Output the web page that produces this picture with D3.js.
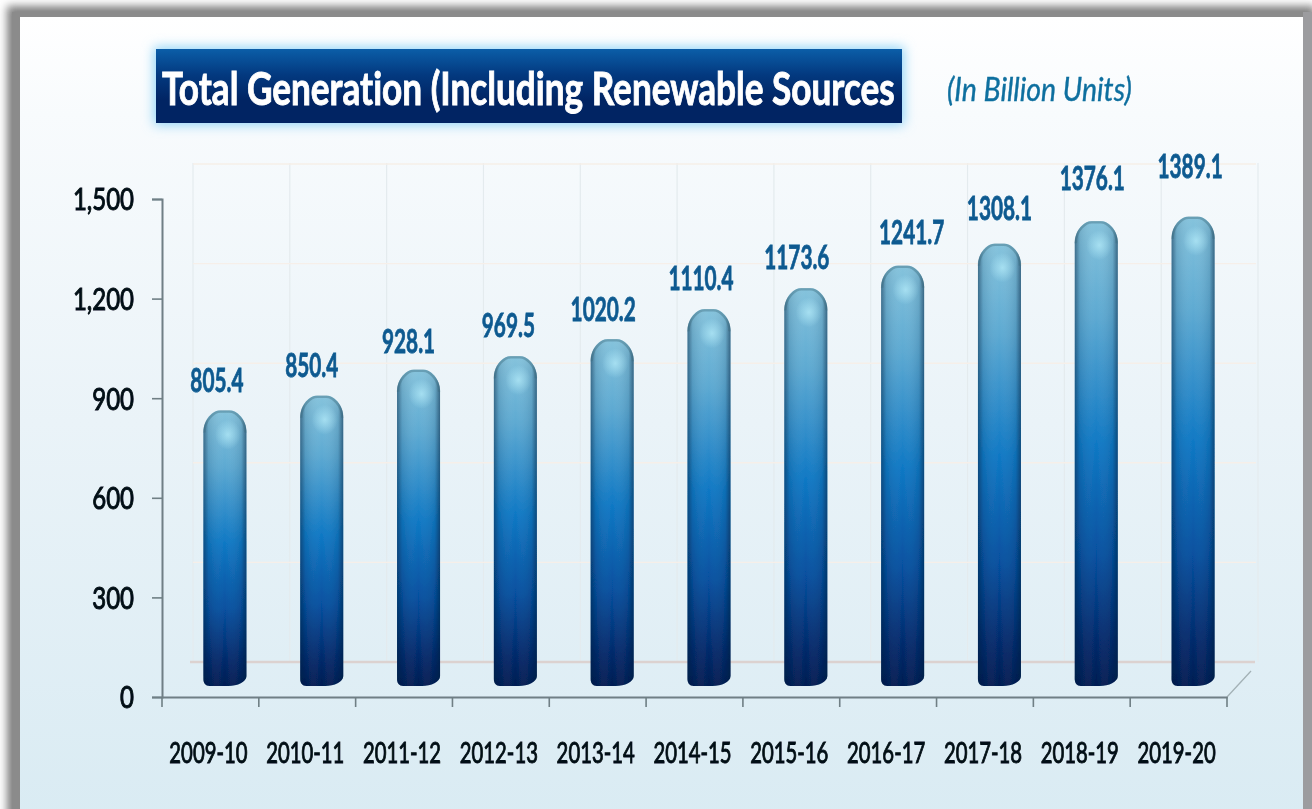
<!DOCTYPE html>
<html><head><meta charset="utf-8">
<script src="https://cdn.jsdelivr.net/npm/d3@7"></script>
<style>html,body{margin:0;padding:0;background:#fff;overflow:hidden}svg{display:block}text{font-family:Lato,"Open Sans",sans-serif;font-variant-ligatures:none}</style>
</head><body><svg id="c" width="1312" height="809"></svg>
<script>
const categories=["2009-10","2010-11","2011-12","2012-13","2013-14","2014-15","2015-16","2016-17","2017-18","2018-19","2019-20"];
const generation=[805.4,850.4,928.1,969.5,1020.2,1110.4,1173.6,1241.7,1308.1,1376.1,1389.1];
const yTicks=[0,300,600,900,1200,1500];
const titleText="Total Generation (Including Renewable Sources";
const unitText="(In Billion Units)";

// layout tweaks for the hand-placed value labels
const labelDx=[-8,-10,-10,-7,-9,-8,-9,9,0,-4,-3];
const labelDy=[-50,-50,-48,-50,-49,-50,-50,-53,-55,-62,-70];

const svg=d3.select("#c"),defs=svg.append("defs");
const W=1312,H=809,x0=162,x1=1227,y0=697,y1=199;
const x=d3.scaleBand().domain(categories).range([x0,x1]);
const y=d3.scaleLinear().domain([0,1500]).range([y0,y1]);

function lin(id,a,stops){const g=defs.append("linearGradient").attr("id",id)
  .attr("x1",a[0]).attr("y1",a[1]).attr("x2",a[2]).attr("y2",a[3]);
  stops.forEach(s=>g.append("stop").attr("offset",s[0]).attr("stop-color",s[1]).attr("stop-opacity",s[2]===undefined?1:s[2]));}
lin("panel",[0,0,0,1],[[0,"#ffffff"],[.12,"#f8fbfd"],[.5,"#eaf3f8"],[1,"#d9ebf3"]]);
lin("titleG",[0,0,0,1],[[0,"#0b5ea8"],[.35,"#03397f"],[.7,"#012463"],[1,"#012463"]]);
lin("barV",[0,0,0,1],[[0,"#85c3dc"],[.2,"#5eaad2"],[.48,"#0f78c4"],[.72,"#06509f"],[.9,"#022a6c"],[1,"#001c52"]]);
lin("barH",[0,0,1,0],[[0,"#04213f",.5],[.12,"#04213f",.12],[.5,"#ffffff",.0],[.88,"#04213f",.12],[1,"#04213f",.55]]);
const rg=defs.append("radialGradient").attr("id","cap");
rg.append("stop").attr("offset",0).attr("stop-color","#b8eefb").attr("stop-opacity",.7);
rg.append("stop").attr("offset",1).attr("stop-color","#b8eefb").attr("stop-opacity",0);
const f1=defs.append("filter").attr("id","soft").attr("x","-5%").attr("y","-5%").attr("width","110%").attr("height","110%");
f1.append("feGaussianBlur").attr("stdDeviation",.7);
const f2=defs.append("filter").attr("id","glow").attr("x","-10%").attr("y","-40%").attr("width","120%").attr("height","180%");
f2.append("feGaussianBlur").attr("stdDeviation",6);
const f3=defs.append("filter").attr("id","frame").attr("x","-5%").attr("y","-5%").attr("width","110%").attr("height","110%");
f3.append("feGaussianBlur").attr("stdDeviation",4);

// frame
svg.append("rect").attr("width",W).attr("height",H).attr("fill","#fff");
svg.append("rect").attr("x",7).attr("y",6).attr("width",W-4).attr("height",H+20).attr("fill","#7f7f7f").attr("filter","url(#frame)");
svg.append("rect").attr("x",12).attr("y",12).attr("width",W-4).attr("height",H).attr("fill","#8b8b8b");
svg.append("rect").attr("x",1303).attr("y",12).attr("width",9).attr("height",H).attr("fill","#9c9c9f");
svg.append("rect").attr("x",20).attr("y",17).attr("width",1283).attr("height",H).attr("fill","url(#panel)");

// back wall
const wall=svg.append("g").attr("filter","url(#soft)");
const bx=31, wallTop=163, wallBot=662;
wall.selectAll("line.v").data(categories.concat(["end"])).join("line")
  .attr("x1",(d,i)=>x0+i*x.step()+bx).attr("x2",(d,i)=>x0+i*x.step()+bx)
  .attr("y1",wallTop).attr("y2",wallBot).attr("stroke","#e4ebee").attr("stroke-width",1.2);
wall.selectAll("line.h").data(yTicks.slice(1)).join("line")
  .attr("x1",x0+bx).attr("x2",x1+bx-2).attr("y1",d=>y(d)-35).attr("y2",d=>y(d)-35)
  .attr("stroke","#f6efe9").attr("stroke-width",1.4);
wall.append("line").attr("x1",x0+bx-3).attr("x2",x1+28).attr("y1",wallBot).attr("y2",wallBot).attr("stroke","#dcd2d0").attr("stroke-width",2.4);
wall.append("line").attr("x1",x1).attr("y1",y0).attr("x2",x1+24).attr("y2",y0-26).attr("stroke","#a3b1b6").attr("stroke-width",1.3);

// bars
const bw=43, shift=14.5, baseLift=11;
const barCentre=d=>x(d.c)+x.bandwidth()/2+shift;
const barTop=d=>y(d.v)-19;
const barPath=d=>{const c=barCentre(d),l=c-bw/2,r=c+bw/2,t=barTop(d),b=y(0)-baseLift;
  return `M${l},${t+22}C${l},${t+8} ${l+10},${t} ${l+16},${t}L${r-16},${t}C${r-10},${t} ${r},${t+8} ${r},${t+22}L${r},${b-10}C${r},${b-4} ${r-9},${b} ${r-18},${b}L${l+6},${b}C${l+2},${b} ${l},${b-3} ${l},${b-7}Z`;};
const capRim=d=>{const c=barCentre(d),l=c-bw/2+1,r=c+bw/2-1,t=barTop(d)+1;
  return `M${l},${t+21}C${l},${t+8} ${l+10},${t} ${l+16},${t}L${r-16},${t}C${r-10},${t} ${r},${t+8} ${r},${t+21}`;};
const rows=categories.map((c,i)=>({c,v:generation[i],i}));
const bars=svg.append("g").attr("filter","url(#soft)");
bars.selectAll("path.a").data(rows).join("path").attr("class","a").attr("d",barPath).attr("fill","url(#barV)");
bars.selectAll("path.b").data(rows).join("path").attr("class","b").attr("d",barPath).attr("fill","url(#barH)");
bars.selectAll("path.r").data(rows).join("path").attr("class","r").attr("d",capRim).attr("fill","none").attr("stroke","#3c6c7e").attr("stroke-opacity",.4).attr("stroke-width",2.5);
bars.selectAll("ellipse").data(rows).join("ellipse")
  .attr("cx",d=>barCentre(d)+3).attr("cy",d=>barTop(d)+24)
  .attr("rx",13).attr("ry",15).attr("fill","url(#cap)");

// narrowing helper: keep the font's height, squeeze its width
const squeeze=(sel,k)=>sel.each(function(){
  const px=+this.getAttribute("x")||0,py=+this.getAttribute("y")||0;
  const f=typeof k==="function"?k(this.getComputedTextLength()):k;
  this.setAttribute("x",0);this.setAttribute("y",0);
  this.setAttribute("transform",`translate(${px},${py}) scale(${f},1)`);});

// axes
const gy=svg.append("g").attr("transform",`translate(${x0},0)`).attr("filter","url(#soft)")
  .call(d3.axisLeft(y).tickValues(yTicks).tickFormat(d3.format(",")).tickSize(10).tickPadding(18));
const gx=svg.append("g").attr("transform",`translate(0,${y0})`).attr("filter","url(#soft)")
  .call(d3.axisBottom(x).tickSize(0).tickPadding(0));
gx.selectAll("line.edge").data(d3.range(categories.length+1)).join("line").attr("class","edge")
  .attr("x1",i=>x0+i*x.step()).attr("x2",i=>x0+i*x.step()).attr("y1",0).attr("y2",10).attr("stroke","#6f7f85").attr("stroke-width",1.6);
[gy,gx].forEach(g=>{g.selectAll("path.domain").attr("stroke","#6f7f85").attr("stroke-width",2);g.selectAll(".tick line").attr("stroke","#6f7f85").attr("stroke-width",1.6);});
gy.selectAll("text").attr("font-size",30).attr("fill","#060c14").attr("stroke","#060c14").attr("stroke-width",1).attr("dy","0.36em");
squeeze(gy.selectAll("text"),.8);
gx.selectAll(".tick text").attr("font-size",29).attr("fill","#060c14").attr("stroke","#060c14").attr("stroke-width",.95).attr("y",66).attr("dy",0).attr("x",-2);
squeeze(gx.selectAll(".tick text"),.7);

// value labels
const vals=svg.append("g").attr("filter","url(#soft)");
vals.selectAll("text").data(rows).join("text")
  .attr("x",d=>barCentre(d)+labelDx[d.i])
  .attr("y",d=>y(d.v)+labelDy[d.i]+12)
  .attr("text-anchor","middle").attr("font-size",33).attr("font-weight",700).attr("fill","#0c5a90").attr("stroke","#0c5a90").attr("stroke-width",.8)
  .text(d=>d.v.toFixed(1));
squeeze(vals.selectAll("text"),.63);

// title
svg.append("rect").attr("x",154).attr("y",47).attr("width",750).attr("height",78).attr("fill","#8fd4f7").attr("filter","url(#glow)");
svg.append("rect").attr("x",156).attr("y",49).attr("width",746).attr("height",74).attr("fill","url(#titleG)");
const tt=svg.append("g").attr("filter","url(#soft)");
tt.append("text").attr("x",162).attr("y",105).attr("font-size",45).attr("font-weight",700).attr("fill","#fff").attr("stroke","#fff").attr("stroke-width",.9).text(titleText);
tt.append("text").attr("x",947).attr("y",101).attr("font-size",32).attr("font-style","italic").attr("fill","#0f6f9f").attr("stroke","#0f6f9f").attr("stroke-width",.4).text(unitText);
squeeze(tt.selectAll("text").filter((d,i)=>i===0),w=>733/w);
squeeze(tt.selectAll("text").filter((d,i)=>i===1),w=>185/w);
</script></body></html>
